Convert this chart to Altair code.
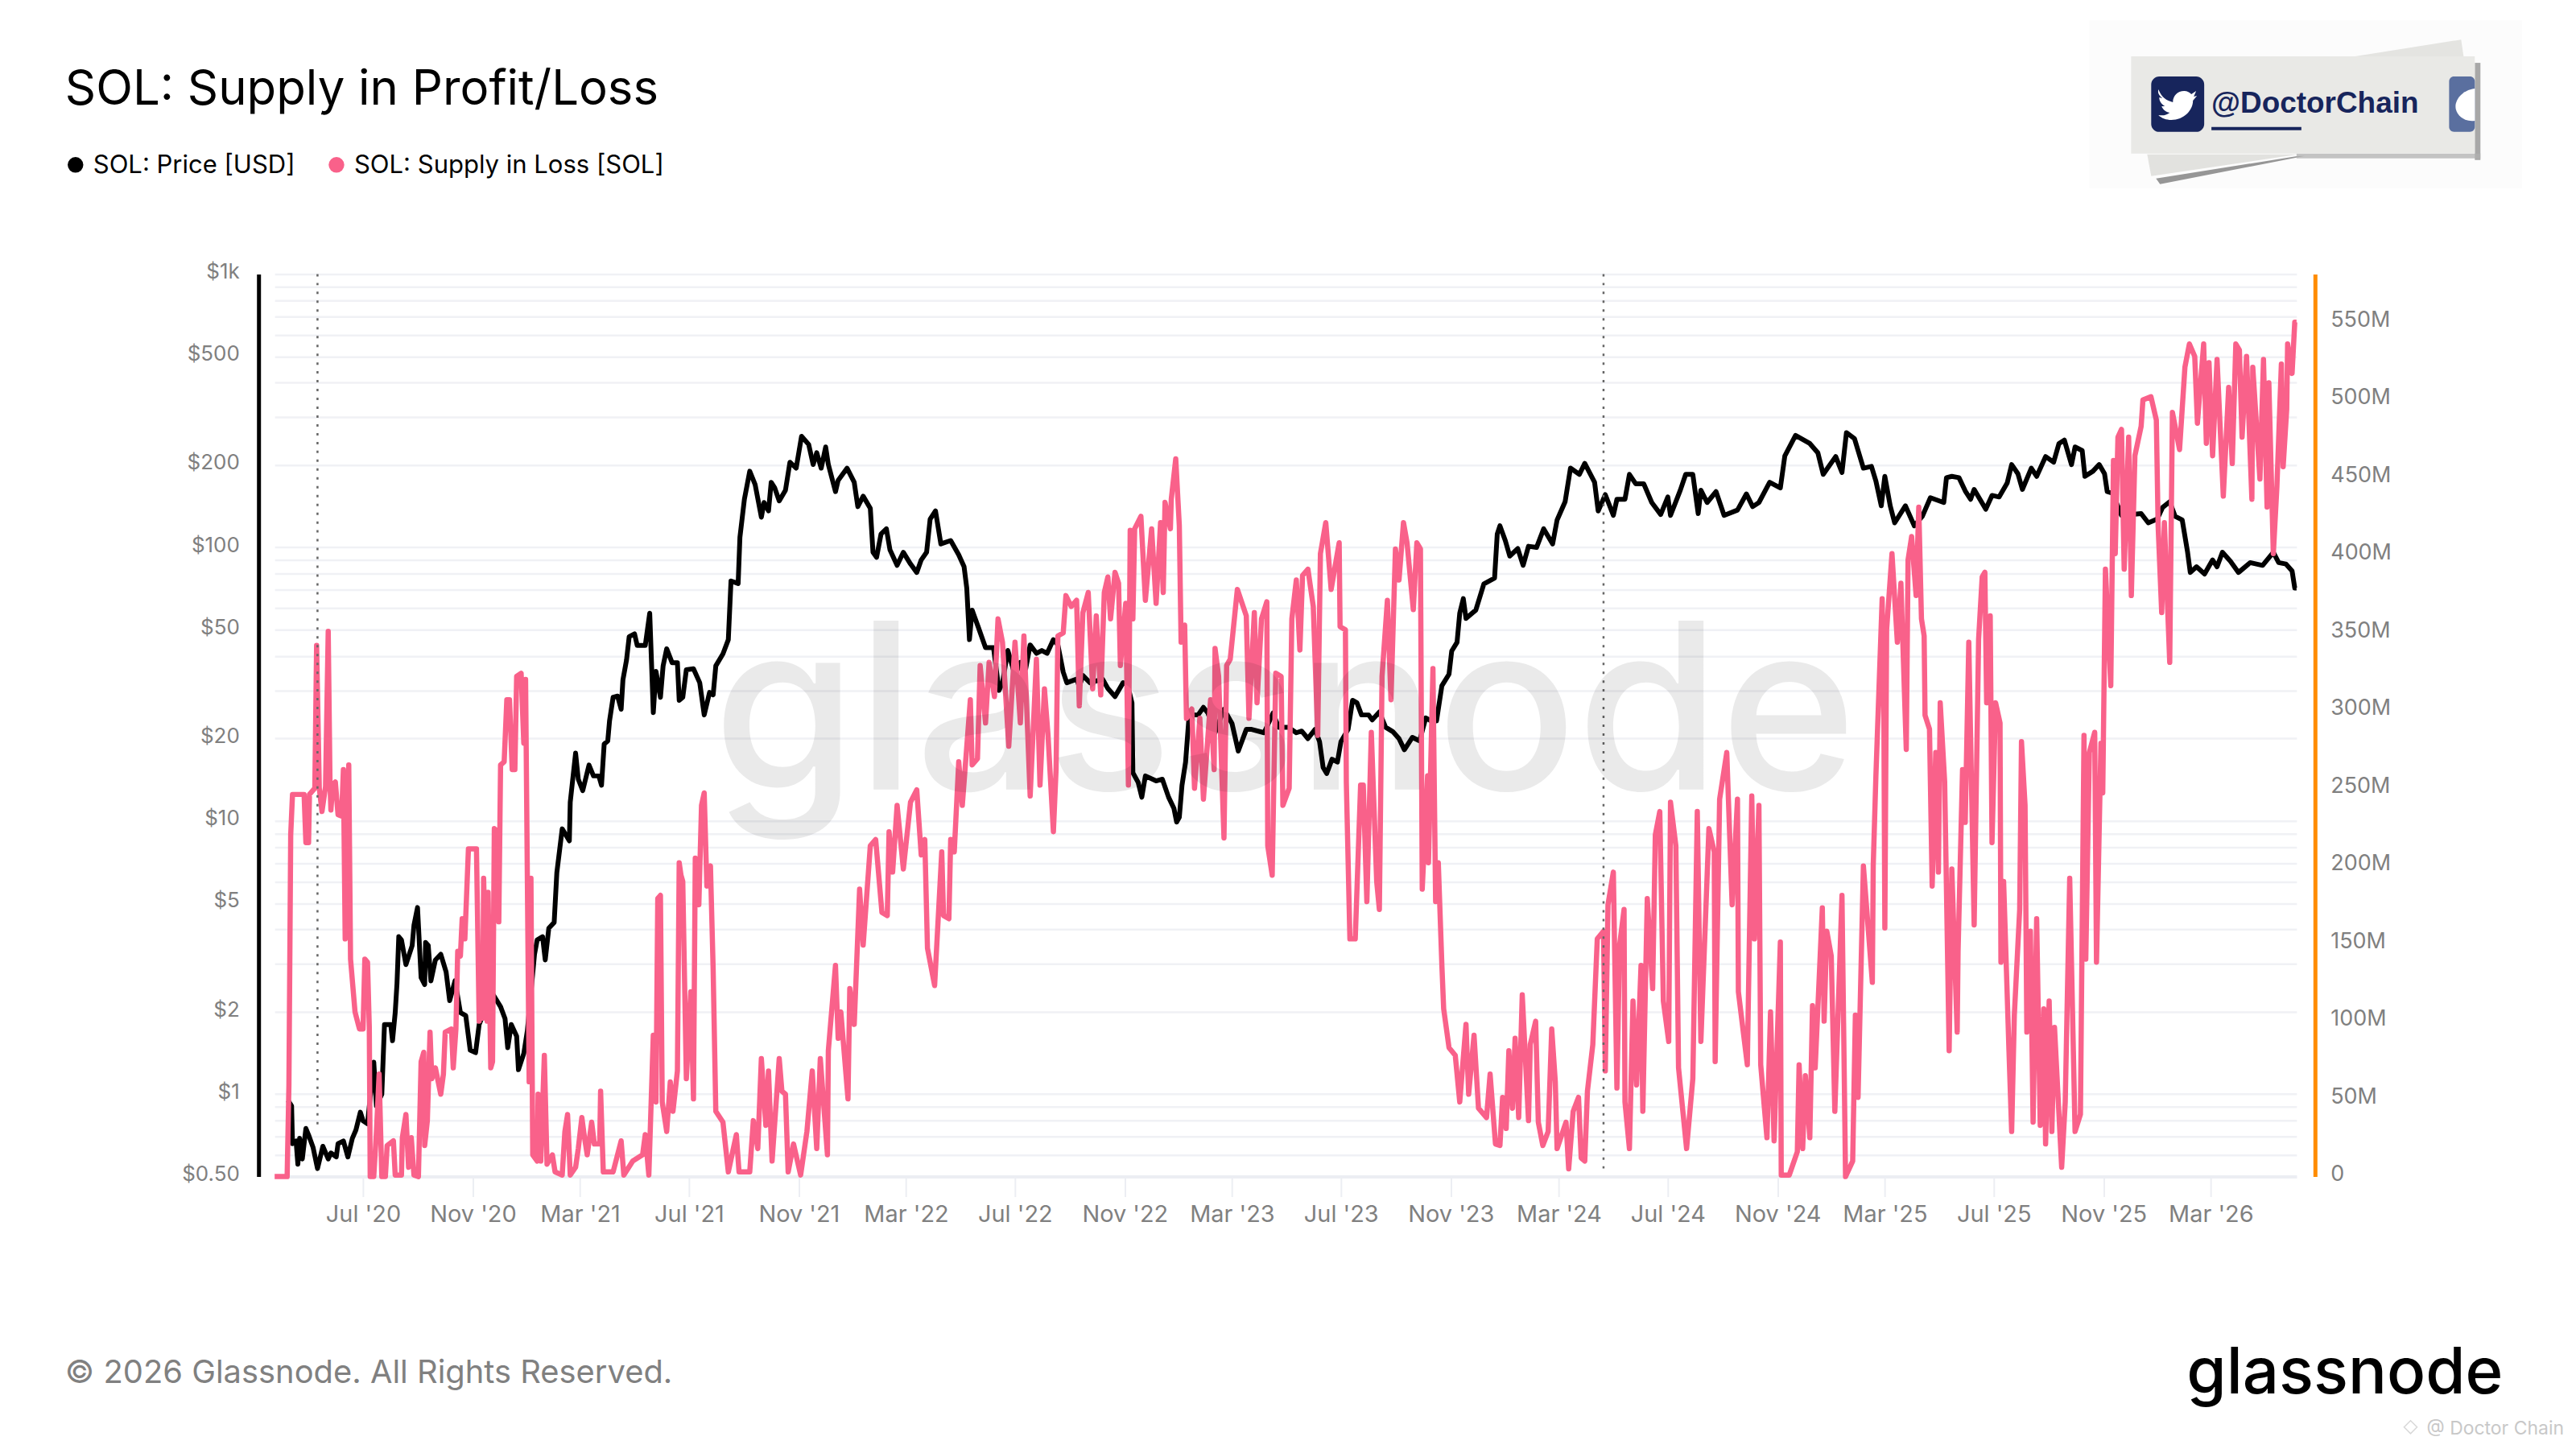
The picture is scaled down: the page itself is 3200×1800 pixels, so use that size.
import altair as alt
import pandas as pd

# ---------- data ----------
start = "2020-03-24"  # day 0 of the day counters below
domain_days = [0, 2264]

price_days = [15,19,20,24,26,28,31,35,38,43,48,54,60,63,69,71,77,82,87,91,96,99,104,111,114,120,123,130,132,135,137,139,142,147,154,156,160,164,168,169,172,175,180,186,192,196,202,208,214,219,225,229,233,235,243,253,258,261,265,271,273,279,283,291,294,300,303,307,313,316,322,330,331,337,340,345,352,357,363,366,369,373,375,379,384,388,390,394,397,403,406,415,420,422,424,427,432,435,439,445,451,453,457,461,469,476,481,487,491,494,502,508,511,519,521,526,532,538,545,548,553,556,560,565,572,577,584,590,598,603,607,612,617,620,628,631,641,649,653,659,667,670,674,679,685,689,697,704,712,719,724,730,734,740,746,757,766,772,775,778,781,788,796,805,811,815,821,829,835,841,846,853,859,865,872,877,883,887,898,901,905,913,927,933,941,950,955,960,961,967,971,975,987,994,1001,1007,1010,1013,1016,1020,1024,1034,1040,1045,1053,1063,1072,1079,1088,1094,1108,1118,1124,1135,1144,1150,1157,1165,1170,1174,1178,1184,1190,1194,1202,1207,1212,1217,1225,1229,1237,1244,1252,1259,1265,1274,1282,1289,1295,1301,1307,1315,1318,1324,1327,1331,1334,1345,1354,1366,1369,1372,1378,1383,1392,1398,1404,1413,1421,1431,1436,1445,1451,1461,1467,1478,1482,1490,1499,1503,1512,1517,1524,1533,1542,1552,1560,1563,1574,1580,1588,1594,1597,1604,1614,1623,1638,1648,1655,1662,1674,1686,1691,1703,1719,1728,1734,1748,1755,1760,1769,1779,1788,1793,1799,1803,1809,1814,1826,1836,1845,1854,1869,1872,1878,1886,1893,1899,1903,1916,1923,1931,1940,1945,1952,1957,1967,1973,1983,1992,1998,2004,2012,2016,2024,2027,2036,2043,2049,2052,2058,2068,2090,2098,2108,2114,2122,2128,2136,2142,2145,2152,2161,2170,2175,2181,2190,2199,2212,2226,2238,2244,2252,2259,2262,2264]
price_usd = [.95,.906,.66,.675,.555,.69,.58,.75,.71,.64,.535,.645,.58,.61,.59,.66,.675,.59,.69,.74,.86,.80,.78,1.31,.906,1.0,1.8,1.8,1.57,1.99,2.54,3.77,3.67,2.98,3.5,4.15,4.82,2.67,2.52,3.59,3.5,2.6,3.1,3.25,2.8,2.2,2.6,1.99,1.94,1.45,1.42,1.8,1.94,2.09,2.36,2.09,1.89,1.48,1.8,1.63,1.23,1.41,1.71,3.25,3.67,3.77,3.1,4.05,4.25,6.47,9.35,8.45,11.7,17.7,14.2,12.9,16,14.6,14.6,13.5,19.1,19.6,23.2,28.3,28.6,25.6,32.8,38.7,47.2,48.3,43.8,43.8,57.5,37.9,24.9,35.2,28.3,36.9,42.6,37.9,37.9,27.6,28.3,35.7,36,32,24.4,29.5,28.9,36.9,40.8,46,75.4,73.8,109,150,190,170,129,146,136,173,165,148,162,205,195,255,238,201,222,195,233,201,160,176,195,173,141,154,139,96,92,112,117,98,86,96,87,81,90,96,127,136,103,106,94,85,71,46,59,51,43,43,30,32,42,34,38,36,44,41,42,41,46,44,35,32,33,31,34,32,33,30.5,28.5,32,31.5,27,15,13.8,12.2,14.6,14,14.2,12.2,11.1,9.9,10.3,13.5,16.4,24.4,24.4,26,24.8,21,25.6,22.7,18,21.6,21.6,21,24.8,22,22,21,21.3,20,21.6,19.5,15.7,14.9,16.8,16.4,19.5,21.6,27.6,27,24.4,24.4,23.4,25,22,21.2,20,18.2,20.2,19.6,23.8,23.2,23.2,31.2,34.4,41.8,45,57.5,65,55,59,73.6,77.3,112,120,106,93,99,86,101,100,117,103,126,147,195,185,203,173,136,156,131,150,150,185,171,171,146,132,153,131,162,185,185,133,162,146,160,131,137,157,141,146,173,165,216,257,240,222,185,215,188,263,250,195,198,175,142,182,142,123,142,120,130,152,146,180,182,180,161,150,163,138,155,153,172,201,186,163,195,182,215,205,240,247,201,233,226,182,190,201,186,160,158,131,133,123,127,140,147,130,126,96,81,85,80,90,85,96,89,81,88,86,96,88,87,82,71,71]

supply_days = [0,14,16,18,20,28,33,35,38,39,45,47,50,53,57,60,62,63,65,68,71,75,77,79,83,85,90,95,99,101,104,106,107,111,114,117,120,124,126,133,135,142,143,147,150,153,156,161,164,167,168,171,174,176,180,186,189,191,198,200,203,205,208,210,213,217,226,229,231,233,234,238,239,242,244,246,250,251,253,257,260,263,266,269,271,276,279,281,285,287,289,294,295,298,302,305,311,314,322,325,328,331,337,340,344,347,350,355,358,364,365,368,379,388,391,401,412,415,419,422,424,427,429,432,434,439,443,446,451,453,455,457,461,466,469,471,475,478,481,484,488,491,494,502,508,517,520,532,536,541,545,550,553,557,565,568,572,575,581,589,596,602,607,611,619,620,628,631,634,642,644,649,655,659,667,673,680,686,688,692,697,704,712,719,724,728,731,739,747,749,755,757,761,766,770,779,781,787,790,796,800,806,810,815,822,829,835,839,846,853,857,862,866,872,875,877,883,886,892,898,901,905,911,916,920,925,929,933,936,941,945,947,953,956,958,961,963,970,975,982,987,992,995,997,1003,1004,1009,1013,1015,1019,1021,1027,1030,1036,1040,1048,1052,1053,1057,1063,1066,1070,1078,1088,1091,1097,1100,1105,1111,1112,1117,1121,1127,1129,1136,1139,1144,1148,1151,1157,1163,1168,1171,1177,1183,1192,1193,1199,1200,1204,1210,1216,1219,1223,1228,1234,1237,1240,1246,1250,1255,1259,1264,1268,1275,1279,1283,1285,1291,1292,1297,1300,1303,1307,1309,1315,1322,1327,1334,1337,1343,1348,1357,1361,1367,1372,1375,1379,1382,1386,1389,1393,1397,1404,1406,1412,1415,1420,1426,1430,1434,1436,1446,1449,1454,1460,1463,1467,1470,1476,1481,1488,1490,1493,1499,1503,1506,1511,1512,1517,1521,1525,1530,1532,1537,1543,1546,1551,1555,1561,1563,1569,1572,1581,1588,1593,1597,1606,1612,1613,1618,1626,1632,1638,1639,1649,1654,1657,1662,1664,1671,1675,1679,1686,1687,1696,1705,1707,1711,1714,1719,1722,1725,1733,1735,1738,1743,1747,1755,1759,1767,1770,1773,1779,1789,1790,1793,1800,1802,1803,1805,1811,1817,1821,1827,1829,1833,1838,1841,1844,1847,1848,1853,1856,1860,1863,1865,1870,1875,1878,1884,1885,1890,1893,1897,1903,1908,1912,1915,1917,1921,1923,1927,1932,1933,1936,1942,1945,1948,1954,1956,1960,1962,1966,1969,1973,1977,1981,1983,1987,1990,1993,2001,2005,2010,2016,2022,2026,2028,2032,2038,2040,2045,2047,2050,2056,2059,2061,2064,2068,2071,2076,2079,2083,2090,2092,2101,2107,2109,2113,2116,2122,2125,2133,2139,2144,2150,2153,2160,2163,2166,2170,2175,2182,2188,2192,2196,2200,2203,2208,2214,2215,2223,2227,2231,2233,2238,2242,2247,2249,2253,2254,2259,2262,2264]
supply_m = [0,0,59,220,246,246,246,215,215,246,250,342,250,235,251,351,253,236,252,254,233,232,262,153,265,140,106,95,95,140,138,96,0,0,29,66,0,0,20,23,1,1,25,40,6,25,1,0,74,80,20,36,93,63,70,53,66,93,95,70,95,145,142,166,153,211,211,100,147,102,192,100,183,70,74,224,222,164,265,267,307,307,262,262,322,324,279,320,61,192,14,10,53,10,78,8,14,3,1,29,40,1,6,18,38,25,14,35,21,21,55,3,3,23,1,10,14,27,1,55,91,48,179,181,48,29,61,42,68,202,194,190,63,119,50,205,175,239,247,187,200,134,42,35,3,27,3,3,36,18,76,33,68,10,76,55,53,3,21,1,29,68,18,76,14,81,136,89,106,50,121,98,185,149,213,217,170,168,222,196,239,198,241,249,207,217,147,123,209,168,166,217,209,267,239,307,265,269,329,292,331,309,359,344,277,344,292,348,245,333,252,314,284,222,262,348,350,374,367,371,303,363,376,314,361,310,376,386,359,389,382,329,369,252,416,359,417,425,371,417,369,421,376,434,417,436,462,419,344,355,295,301,250,295,243,307,262,340,322,218,329,333,378,361,295,363,305,359,370,213,194,324,322,239,250,359,384,339,387,391,367,284,401,421,378,408,354,352,254,153,153,252,252,177,286,190,172,322,371,307,404,384,421,408,365,408,404,185,258,202,327,177,202,136,108,83,78,48,98,53,91,44,38,66,21,20,51,31,81,44,89,38,117,36,85,100,35,20,29,95,61,18,35,5,42,51,12,10,55,85,153,158,68,175,196,57,149,172,48,18,113,59,136,42,179,121,220,235,113,87,241,213,70,18,63,235,87,224,209,74,243,273,175,243,119,72,245,153,239,72,25,106,23,151,1,1,16,72,18,65,25,110,70,173,100,158,142,42,181,0,10,104,51,200,125,200,258,372,288,160,352,401,344,382,275,397,412,374,431,359,348,297,288,187,273,196,305,254,81,198,93,145,262,228,344,162,346,386,389,305,361,215,305,292,138,190,81,29,104,172,280,239,93,158,35,166,33,108,21,113,29,96,6,48,192,29,40,284,140,273,286,138,279,247,391,316,461,401,476,481,391,476,374,464,483,500,502,487,419,363,421,331,492,468,521,536,528,485,536,472,524,464,526,438,508,459,536,532,476,528,436,521,449,526,431,511,401,444,523,457,494,536,517,550,550]

halving_dates = ["2020-05-11", "2024-04-20"]
halving_bottom = [1063, 1114]

tick_dates = [(2020,7),(2020,11),(2021,3),(2021,7),(2021,11),(2022,3),(2022,7),(2022,11),(2023,3),(2023,7),(2023,11),(2024,3),(2024,7),(2024,11),(2025,3),(2025,7),(2025,11),(2026,3)]
price_ticks = [0.5,0.6,0.7,0.8,0.9,1,2,3,4,5,6,7,8,9,10,20,30,40,50,60,70,80,90,100,200,300,400,500,600,700,800,900,1000]
price_labels = [0.5,1,2,5,10,20,50,100,200,500,1000]
supply_ticks = list(range(0, 600, 50))

title_text = "SOL: Supply in Profit/Loss"
legend_texts = ["SOL: Price [USD]", "SOL: Supply in Loss [SOL]"]
footer_text = "© 2026 Glassnode. All Rights Reserved."
logo_text = "glassnode"
handle_text = "@DoctorChain"
small_text = "@ Doctor Chain"

BLACK = "#000000"
PINK = "#f9618a"
ORANGE = "#ff8c00"
GREY = "#808080"
GRID = "#f0f1f5"
FONT = "Inter"

# ---------- frames ----------
base = pd.Timestamp(start)
to_iso = lambda d: (base + pd.Timedelta(days=int(d))).strftime("%Y-%m-%d")
price_df = pd.DataFrame({"date": [to_iso(d) for d in price_days], "price": price_usd})
supply_df = pd.DataFrame({"date": [to_iso(d) for d in supply_days], "supply": supply_m})
halv_df = pd.DataFrame({"date": halving_dates, "bottom": halving_bottom})
one = pd.DataFrame({"a": [0]})


def dt(ts):
    t = base + pd.Timedelta(days=ts)
    return alt.DateTime(year=t.year, month=t.month, date=t.day)


x_scale = alt.Scale(domain=[dt(domain_days[0]), dt(domain_days[1])], nice=False)
x_axis = alt.Axis(
    values=[alt.DateTime(year=y, month=m, date=1) for y, m in tick_dates],
    format="%b '%y", title=None, grid=False, domain=True, domainColor="#eceef3", domainWidth=4,
    ticks=True, tickColor="#eceef3", tickWidth=2, tickSize=25, labelColor=GREY,
    labelFont=FONT, labelFontSize=29, labelPadding=8, labelFlush=False, labelOverlap=False,
)
x_enc = alt.X("date:T", scale=x_scale, axis=x_axis)

label_list = ",".join(str(v) for v in price_labels)
price_layer = alt.Chart(price_df).mark_line(color=BLACK, strokeWidth=6, strokeJoin="round").encode(
    x=x_enc,
    y=alt.Y("price:Q", scale=alt.Scale(type="log", domain=[0.5, 1000], nice=False),
            axis=alt.Axis(values=price_ticks, orient="left", offset=20, title=None, grid=True,
                          gridColor=GRID, gridWidth=2.5, domain=True, domainColor=BLACK, domainWidth=5,
                          ticks=False, labelColor=GREY, labelFont=FONT, labelFontSize=26, labelPadding=24,
                          labelOffset=-3, labelOverlap=False, labelFlush=False,
                          labelExpr=f"indexof([{label_list}], datum.value) < 0 ? '' : datum.value >= 1000 ? '$1k' : datum.value < 1 ? '$0.50' : '$' + datum.value")),
)
supply_layer = alt.Chart(supply_df).mark_line(color=PINK, strokeWidth=6.5, strokeJoin="round").encode(
    x=x_enc,
    y=alt.Y("supply:Q", scale=alt.Scale(domain=[0, 581], nice=False),
            axis=alt.Axis(values=supply_ticks, orient="right", offset=23, title=None, grid=False,
                          domain=True, domainColor=ORANGE, domainWidth=5, ticks=False,
                          labelColor=GREY, labelFont=FONT, labelFontSize=27, labelPadding=19,
                          labelOffset=-3, labelOverlap=False, labelFlush=False,
                          labelExpr="datum.value == 0 ? '0' : datum.value + 'M'")),
)

OX, OY = 342, 339  # plot origin on the page


def text(s, X, Y, size, color=BLACK, font=FONT, weight=400, align="left", baseline="alphabetic", opacity=1):
    return alt.Chart(one).mark_text(text=s, font=font, fontSize=size, fontWeight=weight, color=color,
                                    align=align, baseline=baseline, opacity=opacity).encode(
        x=alt.value(X - OX), y=alt.value(Y - OY))


def box(X1, X2, Y1, Y2, color, opacity=1, radius=0):
    return alt.Chart(one).mark_rect(color=color, opacity=opacity, cornerRadius=radius).encode(
        x=alt.value(X1 - OX), x2=alt.value(X2 - OX), y=alt.value(Y1 - OY), y2=alt.value(Y2 - OY))


def blob(path, X, Y, color, opacity=1):
    return alt.Chart(one).mark_point(shape=path, size=4, filled=True, fill=color, opacity=opacity).encode(
        x=alt.value(X - OX), y=alt.value(Y - OY))


def dot(X, Y, color):
    return alt.Chart(one).mark_point(shape="circle", size=380, filled=True, fill=color, opacity=1).encode(
        x=alt.value(X - OX), y=alt.value(Y - OY))


bird = ("M-24,-18 C-20,-8 -14,-4 -6,-2 C-6,-10 0,-16 8,-16 C12,-16 15,-14 17,-12 L23,-16 L20,-9 L24,-10 L19,-4 "
        "C19,8 8,20 -8,20 C-14,20 -20,18 -24,14 C-18,15 -14,14 -10,11 C-16,10 -19,6 -20,3 L-16,3 C-21,0 -23,-4 -23,-8 "
        "L-19,-7 C-24,-11 -25,-14 -24,-18 Z")

sticker = [
    box(2602, 3141, 23, 232, "#fcfcfc"),
    blob("M-85,20 L92,-8 L100,-8 L-80,27 Z", 2770, 200, "#7c7c7c", 0.8),
    blob("M-96,-10 L-91,17 L92,-10 Z", 2770, 200, "#e2e2df"),
    blob("M-67,10 L65,-11 L68,10 Z", 3000, 58, "#e4e4e1"),
    box(3082, 3089, 76, 197, "#8c8c8c", 0.75),
    box(2860, 3089, 189, 195, "#b0b0b0", 0.75),
    box(2654, 3082, 68, 189, "#e9e9e6"),
    box(2679, 2745, 93, 162, "#17255c", radius=10),
    blob(bird, 2712, 127, "#ffffff"),
    box(3050, 3082, 93, 162, "#5a6f9f", radius=6),
    blob("M14,-20 C-2,-18 -10,-6 -10,2 C-10,12 0,22 14,20 Z", 3068, 128, "#ffffff"),
    text(handle_text, 2754, 138, 37, color="#17255c", font="Liberation Sans", weight=700),
    box(2754, 2866, 156, 160, "#17255c"),
]

furniture = [
    text(title_text, 81, 128, 60),
    dot(94, 203, BLACK),
    text(legend_texts[0], 116, 213, 31.1),
    dot(419, 203, PINK),
    text(legend_texts[1], 441, 213, 31.1),
    text(footer_text, 81, 1720, 40, color=GREY),
    text(logo_text, 2723, 1733, 80, weight=500),
    text(small_text, 3193, 1784, 23, color="#c8c8c8", align="right"),
    alt.Chart(one).mark_point(shape="diamond", size=260, color="#c8c8c8", strokeWidth=1.5, filled=False).encode(
        x=alt.value(3002 - OX), y=alt.value(1775 - OY)),
]

watermark = text(logo_text, 1600, 981, 289, color=BLACK, align="center", opacity=0.08, weight=500)

halvings = [
    alt.Chart(halv_df[halv_df["date"] == d]).mark_rule(color="#666666", strokeWidth=2.5, strokeDash=[3, 8]).encode(
        x=x_enc, y=alt.value(0), y2=alt.value(b))
    for d, b in zip(halving_dates, halving_bottom)
]

chart = alt.layer(
    price_layer, supply_layer, *halvings, watermark, *sticker, *furniture
).resolve_scale(y="independent").properties(
    width=2518, height=1124,
    autosize=alt.AutoSizeParams(type="none"),
    padding={"left": 334, "top": 331, "right": 340, "bottom": 332},
    background="#ffffff",
).configure_view(stroke=None)

chart.save("out.html", embed_options={"renderer": "svg", "actions": False})
